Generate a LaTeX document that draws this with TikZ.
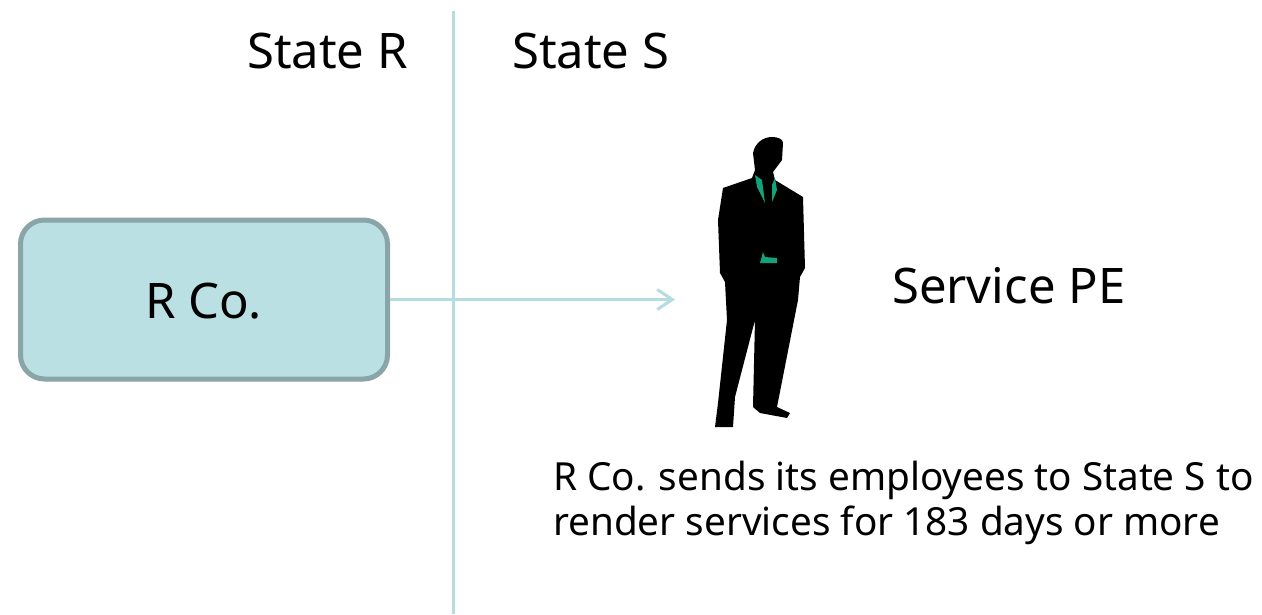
\documentclass[tikz,border=0pt]{standalone}
\usepackage{fontspec}
\setmainfont{Noto Sans}
\usetikzlibrary{arrows.meta}
\definecolor{boxfill}{HTML}{BBE0E3}
\definecolor{boxline}{HTML}{8AA5A8}
\definecolor{linec}{HTML}{B5DDE1}
\definecolor{tie}{HTML}{12A37A}
\tikzset{
  lbl/.style={font=\fontsize{49}{56}\selectfont,inner sep=0pt,text=black},
  txt/.style={font=\fontsize{38.7}{45}\selectfont,inner sep=0pt,text=black,align=left},
  connector/.style={draw=linec,line width=3pt}
}
\begin{document}
\begin{tikzpicture}[x=1pt,y=-1pt]
\useasboundingbox (0,0) rectangle (1262,614);
\fill[white] (0,0) rectangle (1262,614);
\coordinate (divtop) at (453,11);
\coordinate (divbot) at (453,614);
\draw[connector] (divtop) -- (divbot);
\node[draw=boxline,fill=boxfill,line width=5pt,rounded corners=24pt,minimum width=367pt,minimum height=159pt,inner sep=0pt] (rco) at (204,299.5) {};
\node[lbl,anchor=base] at (203.5,318) {R Co.};
\node[lbl,anchor=base west] (sr) at (247,68.5) {State R};
\node[lbl,anchor=base west] (ss) at (512,68.5) {State S};
\coordinate (tip) at (675,299.5);
\draw[connector,-{Straight Barb[length=15pt,width=20pt,line width=3pt]}] (rco.east) -- (tip);
% silhouette
\fill[black] (753,153) .. controls (755,143) and (763,137) .. (772,137)
 .. controls (778,137) and (783,139) .. (783,143)
 -- (782,160) -- (773,172) -- (775,180) -- (803,197) -- (805,268) -- (800,277) -- (798,300)
 -- (777,407) -- (790,413) -- (787,418) -- (760,413) -- (753,407) -- (755,320)
 -- (735,397) -- (733,427) -- (715,427) -- (718,403) -- (727,320) -- (725,282) -- (720,273)
 -- (718,220) -- (723,188) -- (752,178) -- (755,170) -- cycle;
\fill[tie] (755,175) -- (762,180) -- (765,203) -- (757,187) -- cycle;
\fill[tie] (775,178) -- (772,185) -- (772,202) -- (777,190) -- cycle;
\fill[tie] (760,263) -- (763,252) -- (765,257) -- (777,258) -- (777,263) -- cycle;
\node[lbl,anchor=base west] (pe) at (892,303) {Service PE};
\node[txt,anchor=north west] (desc) at (553,461) {R Co. sends its employees to State S to\\render services for 183 days or more};
\end{tikzpicture}
\end{document}
